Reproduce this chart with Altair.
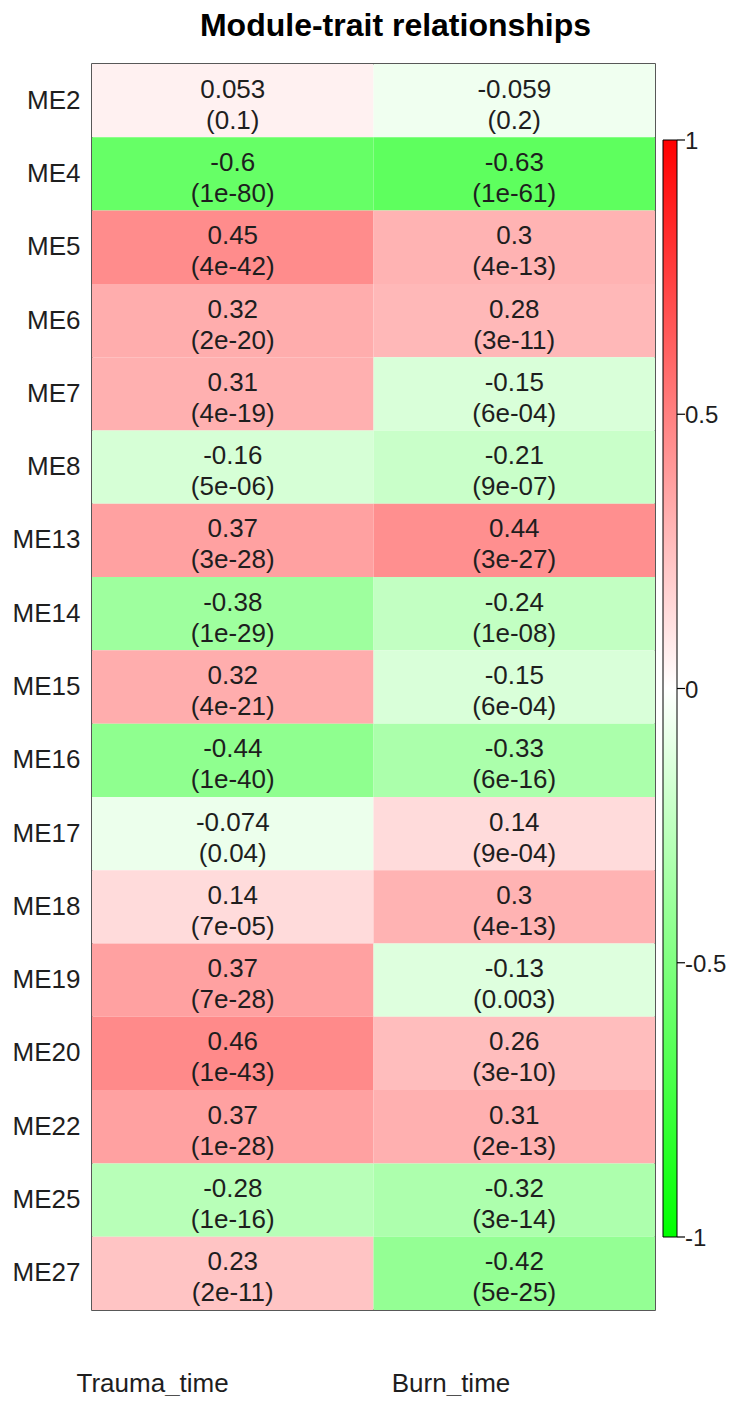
import altair as alt
import pandas as pd

modules = ["ME2", "ME4", "ME5", "ME6", "ME7", "ME8", "ME13", "ME14", "ME15",
           "ME16", "ME17", "ME18", "ME19", "ME20", "ME22", "ME25", "ME27"]
traits = ["Trauma_time", "Burn_time"]
trauma_r = [0.053, -0.6, 0.45, 0.32, 0.31, -0.16, 0.37, -0.38, 0.32,
            -0.44, -0.074, 0.14, 0.37, 0.46, 0.37, -0.28, 0.23]
trauma_p = ["0.1", "1e-80", "4e-42", "2e-20", "4e-19", "5e-06", "3e-28", "1e-29", "4e-21",
            "1e-40", "0.04", "7e-05", "7e-28", "1e-43", "1e-28", "1e-16", "2e-11"]
burn_r = [-0.059, -0.63, 0.3, 0.28, -0.15, -0.21, 0.44, -0.24, -0.15,
          -0.33, 0.14, 0.3, -0.13, 0.26, 0.31, -0.32, -0.42]
burn_p = ["0.2", "1e-61", "4e-13", "3e-11", "6e-04", "9e-07", "3e-27", "1e-08", "6e-04",
          "6e-16", "9e-04", "4e-13", "0.003", "3e-10", "2e-13", "3e-14", "5e-25"]
legend_ticks = [-1, -0.5, 0, 0.5, 1]
legend_labels = ["-1", "-0.5", "0", "0.5", "1"]

rows = []
for i, m in enumerate(modules):
    for t, rs, ps in ((traits[0], trauma_r, trauma_p), (traits[1], burn_r, burn_p)):
        rows.append({"module": m, "trait": t, "r": rs[i], "label": f"{rs[i]}\n({ps[i]})"})
df = pd.DataFrame(rows)
leg_df = pd.DataFrame({"v": legend_ticks, "lab": legend_labels})

FONT = "Liberation Sans"
W, H = 563, 1246
TXT = "#1e1e1e"

color_scale = alt.Scale(domain=[-1, 0, 1], range=["#00ff00", "#ffffff", "#ff0000"], interpolate="rgb")
leg_scale = alt.Scale(domain=[-1, 1], range=[1173, 76])

x = alt.X("trait:N", sort=traits, title=None,
          axis=alt.Axis(labelAngle=0, labelAlign="right", labelBaseline="alphabetic", labelPadding=81,
                        labelOffset=-4, ticks=False, domain=False, labelFontSize=26,
                        labelFont=FONT, labelColor=TXT))
y = alt.Y("module:N", sort=modules, title=None,
          axis=alt.Axis(ticks=False, domain=False, labelPadding=12, labelFontSize=26,
                        labelFont=FONT, labelColor=TXT, minExtent=84, maxExtent=84))

rect = alt.Chart(df).mark_rect().encode(
    x=x, y=y,
    color=alt.Color("r:Q", scale=color_scale,
                    legend=alt.Legend(orient="none", legendX=571, legendY=76, direction="vertical",
                                      gradientLength=1097, gradientThickness=14,
                                      gradientStrokeColor="black", gradientStrokeWidth=1,
                                      values=legend_ticks, labelExpr="''", labelOpacity=0,
                                      title=None))
)

text = alt.Chart(df).mark_text(fontSize=26, font=FONT, lineBreak="\n", lineHeight=31,
                               color=TXT, dy=-11).encode(x=x, y=y, text="label:N")

main = alt.layer(rect, text)

ticks = alt.Chart(leg_df).mark_rule(color="black", strokeWidth=1.2).encode(
    x=alt.value(585), x2=alt.value(593),
    y=alt.Y("v:Q", scale=leg_scale, axis=None)
)
tick_labels = alt.Chart(leg_df).mark_text(align="left", baseline="middle", fontSize=24, font=FONT,
                                          color=TXT, dy=2).encode(
    x=alt.value(593),
    y=alt.Y("v:Q", scale=leg_scale, axis=None),
    text="lab:N"
)
legend_layer = alt.layer(ticks, tick_labels)

chart = alt.layer(main, legend_layer).resolve_scale(y="independent").properties(
    width=W, height=H,
    autosize=alt.AutoSizeParams(type="none"),
    padding={"left": 84, "top": 56, "right": 72, "bottom": 86},
    title=alt.TitleParams("Module-trait relationships", fontSize=32, fontWeight="bold", font=FONT,
                          anchor="middle", color="black", offset=21, dx=22),
).configure_view(stroke="#222222", strokeWidth=1.5).configure_legend(
    gradientVerticalMaxLength=1200
)

chart.save("out.html", embed_options={"renderer": "svg", "actions": False})
